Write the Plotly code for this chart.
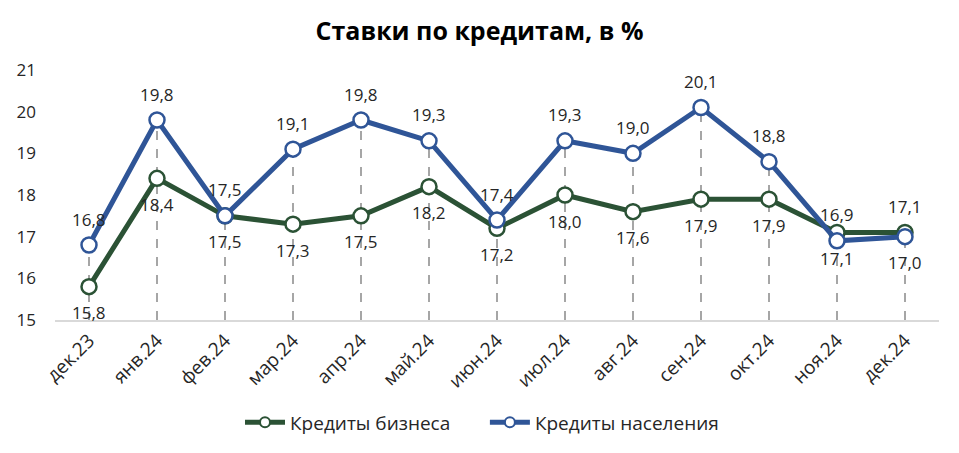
import plotly.graph_objects as go

categories = ["дек.23", "янв.24", "фев.24", "мар.24", "апр.24", "май.24", "июн.24",
              "июл.24", "авг.24", "сен.24", "окт.24", "ноя.24", "дек.24"]
business = [15.8, 18.4, 17.5, 17.3, 17.5, 18.2, 17.2, 18.0, 17.6, 17.9, 17.9, 17.1, 17.1]
population = [16.8, 19.8, 17.5, 19.1, 19.8, 19.3, 17.4, 19.3, 19.0, 20.1, 18.8, 16.9, 17.0]
series_names = ["Кредиты бизнеса", "Кредиты населения"]
# label side: +1 above, -1 below
business_label_side = [-1] * 12 + [1]
population_label_side = [1] * 12 + [-1]
y_ticks = [15, 16, 17, 18, 19, 20, 21]

GREEN = "#2b5235"
BLUE = "#2f5597"
FONT = "Open Sans"

fig = go.Figure()

idx = list(range(len(categories)))

# drop lines
for i in idx:
    fig.add_shape(type="line", xref="x", yref="y", x0=i, x1=i, y0=15,
                  y1=max(business[i], population[i]),
                  line=dict(color="#a6a6a6", width=2, dash="dash"), layer="below")

for vals, name, col in ((business, series_names[0], GREEN), (population, series_names[1], BLUE)):
    fig.add_trace(go.Scatter(
        x=idx, y=vals, name=name, mode="lines+markers", showlegend=False,
        line=dict(color=col, width=5),
        marker=dict(symbol="circle", size=15, color="white", line=dict(color=col, width=2.5)),
    ))

# legend-only entries with smaller markers
for name, col in ((series_names[0], GREEN), (series_names[1], BLUE)):
    fig.add_trace(go.Scatter(
        x=[None], y=[None], name=name + "      ", mode="lines+markers",
        line=dict(color=col, width=5),
        marker=dict(symbol="circle", size=10, color="white", line=dict(color=col, width=2)),
    ))

def fmt(v):
    return f"{v:.1f}".replace(".", ",")

for i in idx:
    for vals, sides in ((business, business_label_side), (population, population_label_side)):
        fig.add_annotation(x=i, y=vals[i], text=fmt(vals[i]), showarrow=False,
                           xref="x", yref="y", yshift=26 * sides[i],
                           font=dict(family=FONT, size=17, color="#262626"))

fig.update_layout(
    width=959, height=453,
    margin=dict(l=55, r=20, t=70, b=133),
    paper_bgcolor="white", plot_bgcolor="white",
    title=dict(text="<b>Ставки по кредитам, в %</b>", x=0.5, xanchor="center",
               y=1 - 31 / 453, yanchor="middle",
               font=dict(family=FONT, size=25, color="#000000")),
    font=dict(family=FONT, color="#262626"),
    showlegend=True,
    legend=dict(orientation="h", x=0.5, xanchor="center", y=-0.41, yanchor="middle",
                font=dict(family=FONT, size=19, color="#262626"), itemwidth=40),
)
fig.update_xaxes(
    tickmode="array", tickvals=idx, ticktext=categories, tickangle=-45,
    range=[-0.5, len(categories) - 0.5], showgrid=False, zeroline=False,
    showline=True, linecolor="#d9d9d9", linewidth=2, ticks="",
    tickfont=dict(family=FONT, size=19, color="#262626"),
)
fig.update_yaxes(
    range=[15, 21], tickvals=y_ticks, showgrid=False, zeroline=False,
    showline=False, ticks="", ticklabelstandoff=18,
    tickfont=dict(family=FONT, size=17, color="#262626"),
)

fig.write_html("out.html")
